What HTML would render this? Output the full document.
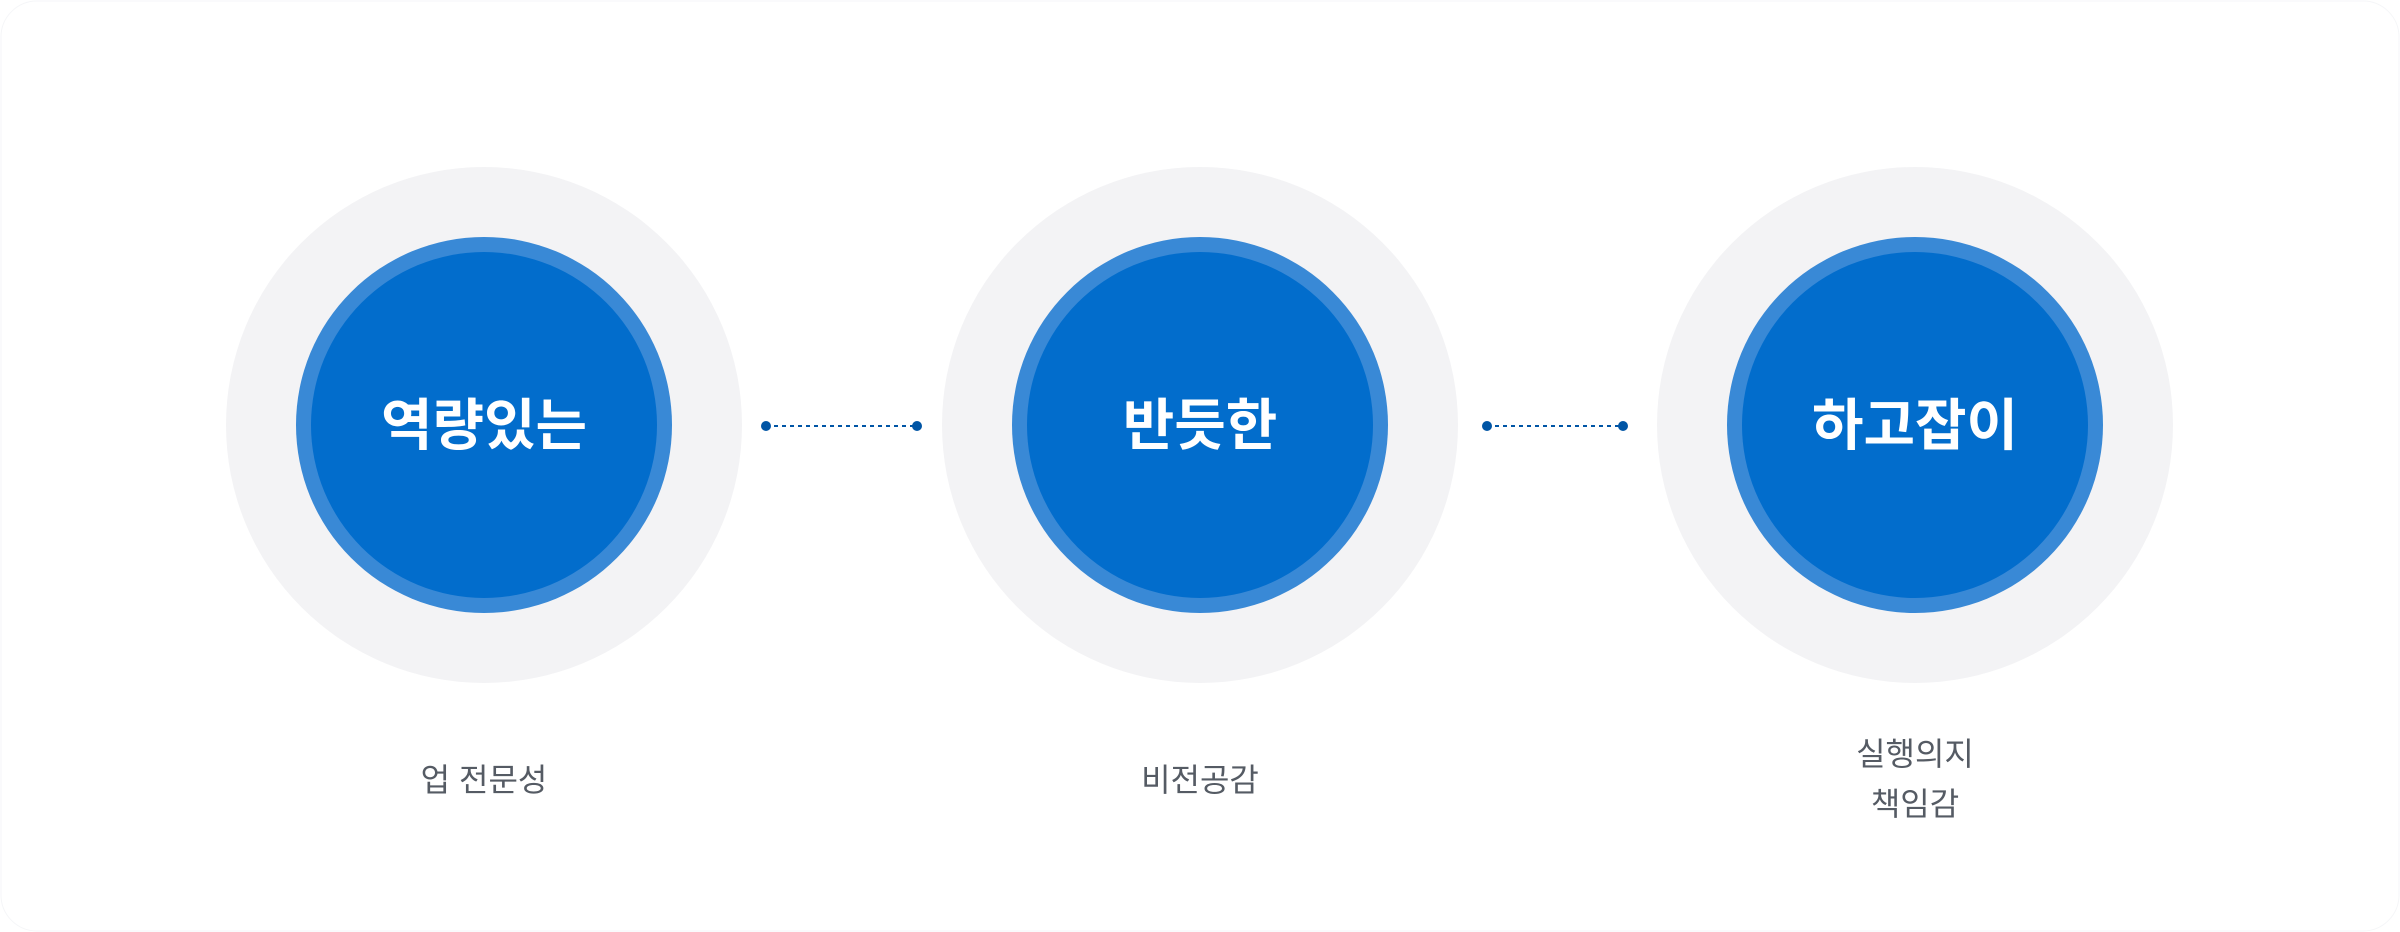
<!DOCTYPE html>
<html><head><meta charset="utf-8"><style>
html,body{margin:0;padding:0;background:#fff;}
body{width:2400px;height:932px;position:relative;overflow:hidden;font-family:"Liberation Sans","Noto Sans CJK KR","NanumGothic",sans-serif;}
.lbl{position:absolute;width:400px;text-align:center;color:#555b64;font-size:32px;line-height:50px;}
.ct{font-family:"Liberation Sans","Noto Sans CJK KR",sans-serif;font-weight:700;font-size:56px;fill:#fff;}
</style></head><body>
<svg width="2400" height="932" style="position:absolute;left:0;top:0">
<rect x="1" y="1" width="2398" height="930" rx="36" fill="#fff" stroke="#f5f6f8" stroke-width="1"/>
<g>
<circle cx="484" cy="425" r="258" fill="#f3f3f5"/>
<circle cx="484" cy="425" r="188" fill="#3989d6"/>
<circle cx="484" cy="425" r="173" fill="#026dcc"/>
<text class="ct" x="484" y="445" text-anchor="middle">역량있는</text>
</g>
<g>
<circle cx="1200" cy="425" r="258" fill="#f3f3f5"/>
<circle cx="1200" cy="425" r="188" fill="#3989d6"/>
<circle cx="1200" cy="425" r="173" fill="#026dcc"/>
<text class="ct" x="1200" y="445" text-anchor="middle">반듯한</text>
</g>
<g>
<circle cx="1915" cy="425" r="258" fill="#f3f3f5"/>
<circle cx="1915" cy="425" r="188" fill="#3989d6"/>
<circle cx="1915" cy="425" r="173" fill="#026dcc"/>
<text class="ct" x="1915" y="445" text-anchor="middle">하고잡이</text>
</g>
<g fill="#0055a5" stroke="#0055a5">
<line x1="766" y1="426" x2="917" y2="426" stroke-width="2" stroke-dasharray="4 4"/>
<circle cx="766" cy="426" r="5" stroke="none"/>
<circle cx="917" cy="426" r="5" stroke="none"/>
<line x1="1487" y1="426" x2="1623" y2="426" stroke-width="2" stroke-dasharray="4 4"/>
<circle cx="1487" cy="426" r="5" stroke="none"/>
<circle cx="1623" cy="426" r="5" stroke="none"/>
</g>
</svg>
<div class="lbl" style="left:284px;top:755px">업 전문성</div>
<div class="lbl" style="left:1000px;top:755px">비전공감</div>
<div class="lbl" style="left:1715px;top:729px">실행의지<br>책임감</div>
</body></html>
